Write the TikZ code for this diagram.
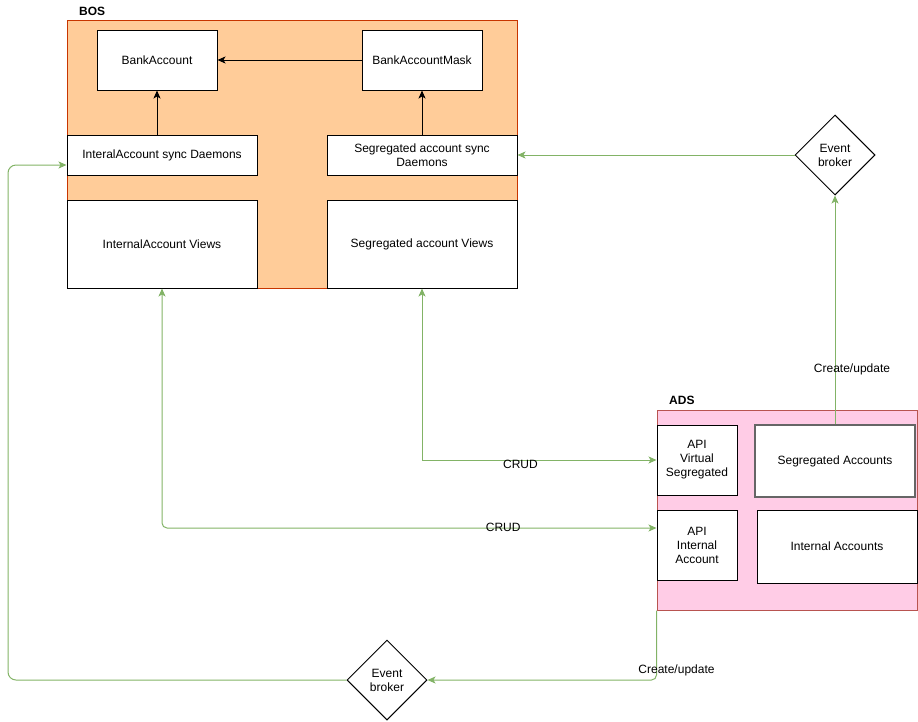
\documentclass[tikz,border=0pt]{standalone}
\usepackage{fontspec}
\setmainfont{Liberation Sans}
\usetikzlibrary{arrows.meta,shapes.geometric,positioning,calc}

\definecolor{bosfill}{HTML}{FFCC99}
\definecolor{bosline}{HTML}{C73500}
\definecolor{adsfill}{HTML}{FFCCE6}
\definecolor{adsline}{HTML}{B85450}
\definecolor{flowgreen}{HTML}{82B366}

\begin{document}
\begin{tikzpicture}[
        x=1pt, y=-1pt,
        every node/.style={font=\fontsize{12}{14}\selectfont},
        group/.style={
            draw, line width=1pt, inner sep=0pt
        },
        box/.style={
            draw, fill=white, line width=1pt,
            align=center, inner sep=2pt
        },
        broker/.style={
            draw, fill=white, line width=1pt, diamond,
            minimum width=80, minimum height=80,
            inner sep=0pt, align=center
        },
        title/.style={anchor=west, inner sep=0pt, font=\fontsize{12}{14}\selectfont\bfseries},
        call/.style={line width=1pt, -{Stealth[length=8pt,width=7pt,inset=2pt]}},
        flow/.style={draw=flowgreen, line width=1pt,
            -{Stealth[length=8pt,width=7pt,inset=2pt,fill=flowgreen]}},
        both/.style={flow,
            {Stealth[length=8pt,width=7pt,inset=2pt,fill=flowgreen]}-{Stealth[length=8pt,width=7pt,inset=2pt,fill=flowgreen]}}
      ]
  \useasboundingbox (0,0) rectangle (918,721);

  % BOS
  \node[group, fill=bosfill, draw=bosline, minimum width=450, minimum height=268] (BOS) at (292,154) {};
  \node[title] (BOSlabel) at (79,11) {BOS};
  \node[box, minimum width=120, minimum height=60] (BankAcc) at (157,60) {BankAccount};
  \node[box, minimum width=120, minimum height=60] (Mask) at (422,60) {BankAccountMask};
  \node[box, minimum width=190, minimum height=40] (IntDaemon) at (162,155) {InteralAccount sync Daemons};
  \node[box, minimum width=190, minimum height=40] (SegDaemon) at (422,155) {Segregated account sync\\Daemons};
  \node[box, minimum width=190, minimum height=88] (IntViews) at (162,244) {InternalAccount Views};
  \node[box, minimum width=190, minimum height=88] (SegViews) at (422,244) {Segregated account Views};

  % ADS
  \node[group, fill=adsfill, draw=adsline, minimum width=260, minimum height=200] (ADS) at (787,510) {};
  \node[title] (ADSlabel) at (669,400) {ADS};
  \node[box, minimum width=80, minimum height=70] (ApiSeg) at (697,460) {API\\Virtual\\Segregated};
  \node[box, draw=black!60, line width=1.6pt, minimum width=160, minimum height=72] (SegAcc) at (835,461) {Segregated Accounts};
  \node[box, minimum width=80, minimum height=70] (ApiInt) at (697,545) {API\\Internal\\Account};
  \node[box, minimum width=160, minimum height=73] (IntAcc) at (837,546.5) {Internal Accounts};

  % brokers
  \node[broker] (brokerT) at (835,155) {Event\\broker};
  \node[broker] (brokerB) at (387,680) {Event\\broker};
  \coordinate (loop) at (8,680);

  \draw[call] (Mask) -- (BankAcc);
  \draw[call] (BankAcc.south |- IntDaemon.north) -- (BankAcc.south);
  \draw[call] (SegDaemon.north) -- (Mask.south);

  \draw[flow] (SegAcc.north) -- node[pos=0.24, xshift=17pt] (upd1) {Create/update} (brokerT.south);
  \draw[flow] (brokerT.west) -- (SegDaemon.east);
  \draw[both] (SegViews.south) |- node[pos=0.71, yshift=-4pt] (crud1) {CRUD} (ApiSeg.west);
  \draw[both, rounded corners=5] (IntViews.south) |- node[pos=0.845, yshift=1pt] (crud2) {CRUD} ([yshift=17pt]ApiInt.west);
  \draw[flow, rounded corners=5] (ADS.south west) |- node[pos=0.5, xshift=20pt, yshift=10pt] (upd2) {Create/update} (brokerB.east);
  \draw[flow, rounded corners=8] (brokerB.west) -- (loop) |- ([yshift=-10pt]IntDaemon.west);
\end{tikzpicture}
\end{document}
